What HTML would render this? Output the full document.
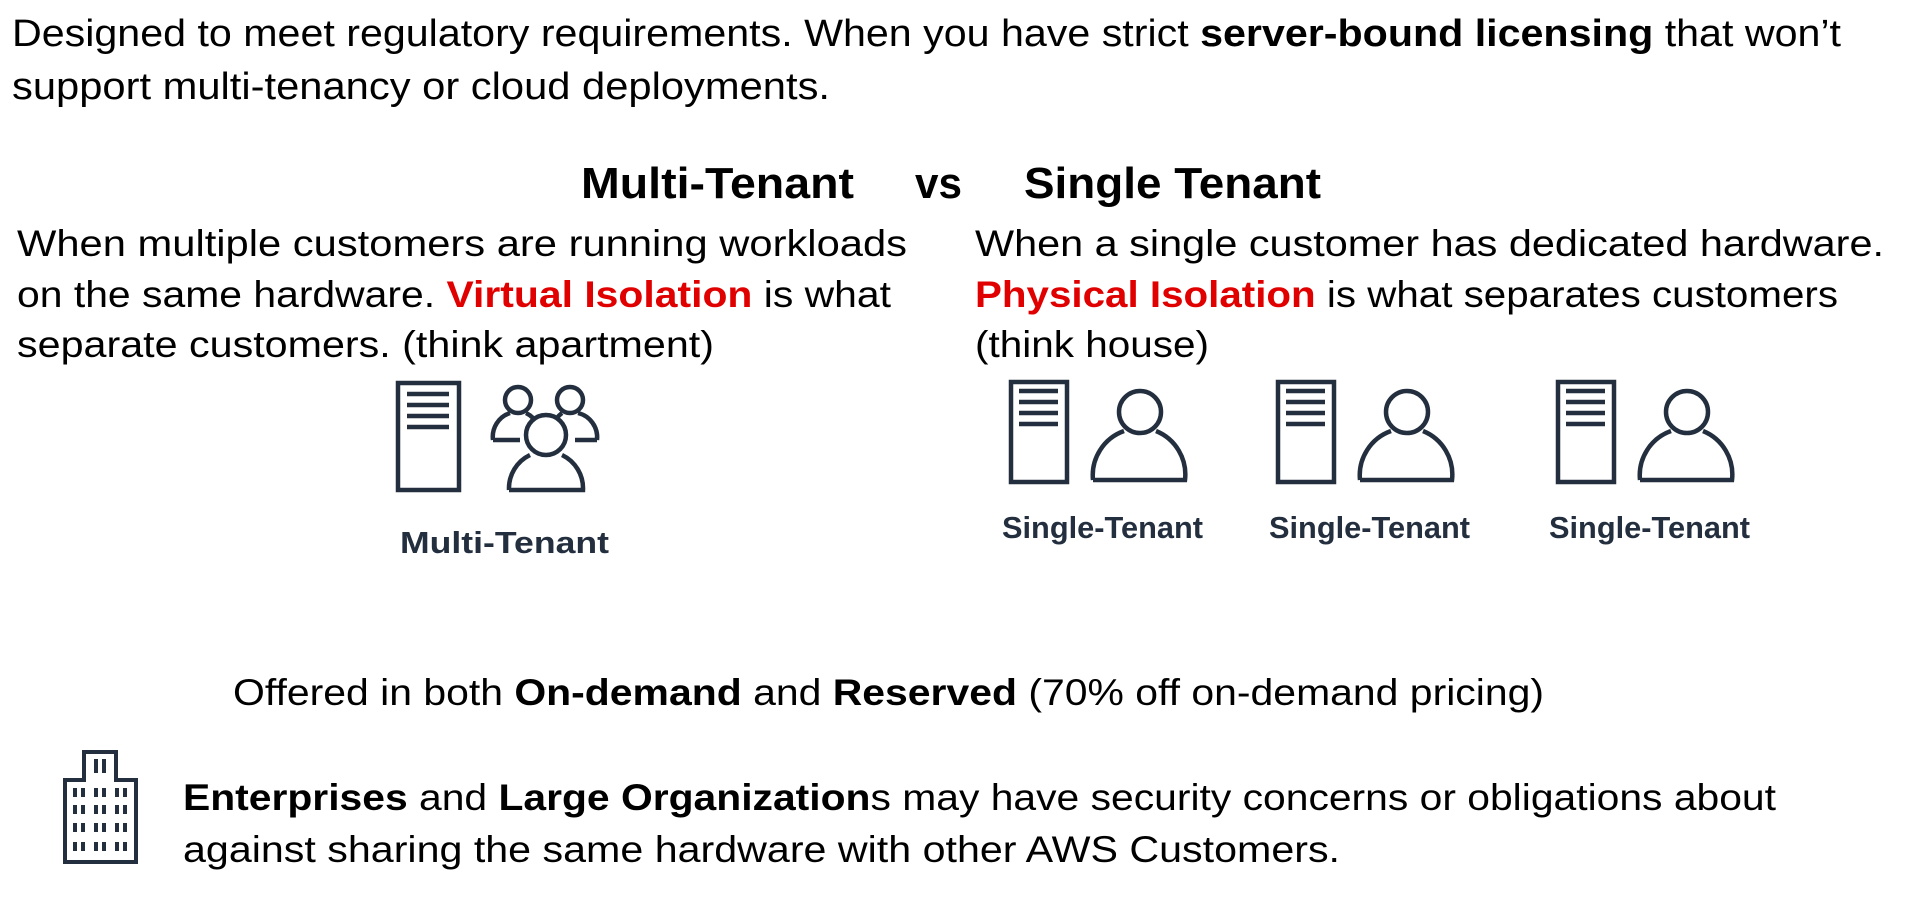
<!DOCTYPE html>
<html><head><meta charset="utf-8"><style>
html,body{margin:0;padding:0;background:#fff;width:1930px;height:900px;overflow:hidden}
text{font-family:"Liberation Sans",sans-serif;fill:#000}
.b{font-weight:bold}
.r{fill:#e00000;font-weight:bold}
.lab{font-weight:bold;fill:#232f3e}
</style></head><body>
<svg width="1930" height="900" viewBox="0 0 1930 900" xmlns="http://www.w3.org/2000/svg">
<g font-size="38">
<text x="12" y="46" textLength="1829" lengthAdjust="spacingAndGlyphs">Designed to meet regulatory requirements. When you have strict <tspan class="b">server-bound licensing</tspan> that won’t</text>
<text x="12" y="99" textLength="818" lengthAdjust="spacingAndGlyphs">support multi-tenancy or cloud deployments.</text>
</g>
<g font-size="44" class="b">
<text class="b" x="581" y="198" textLength="273" lengthAdjust="spacingAndGlyphs">Multi-Tenant</text>
<text class="b" x="915" y="198" textLength="47" lengthAdjust="spacingAndGlyphs">vs</text>
<text class="b" x="1024" y="198" textLength="297" lengthAdjust="spacingAndGlyphs">Single Tenant</text>
</g>
<g font-size="37">
<text x="17" y="256" textLength="890" lengthAdjust="spacingAndGlyphs">When multiple customers are running workloads</text>
<text x="17" y="307" textLength="874" lengthAdjust="spacingAndGlyphs">on the same hardware. <tspan class="r">Virtual Isolation</tspan> is what</text>
<text x="17" y="357" textLength="697" lengthAdjust="spacingAndGlyphs">separate customers. (think apartment)</text>
<text x="975" y="256" textLength="909" lengthAdjust="spacingAndGlyphs">When a single customer has dedicated hardware.</text>
<text x="975" y="307" textLength="863" lengthAdjust="spacingAndGlyphs"><tspan class="r">Physical Isolation</tspan> is what separates customers</text>
<text x="975" y="357" textLength="234" lengthAdjust="spacingAndGlyphs">(think house)</text>
</g>
<g stroke="#232f3e" stroke-width="4.5" fill="none" stroke-linecap="butt">
<rect x="398" y="383" width="61" height="107"/>
<path d="M407 394H449M407 405H449M407 416H449M407 427H449"/>
<circle cx="518" cy="400" r="13"/>
<circle cx="570" cy="400" r="13"/>
<path d="M493 440 A25 25 0 0 1 510 413 M493 440 H520 M526 413 A25 25 0 0 1 533 418"/>
<path d="M597 440 A25 25 0 0 0 578 413 M597 440 H575 M562 413 A25 25 0 0 0 557 418"/>
<circle cx="546" cy="435" r="20"/>
<path d="M509 490 A37 37 0 0 1 530 455 M562 455 A37 37 0 0 1 583 490 H509"/>
</g>
<g id="st" stroke="#232f3e" stroke-width="4.5" fill="none">
<rect x="1011" y="382" width="56" height="100"/>
<path d="M1019 391H1058M1019 402H1058M1019 413H1058M1019 424H1058"/>
<circle cx="1140" cy="412" r="21"/>
<path d="M1093 480 A47 47 0 0 1 1124 431 M1156 431 A47 47 0 0 1 1185 480 H1093"/>
</g>
<use href="#st" x="267"/>
<use href="#st" x="547"/>
<g font-size="31">
<text class="lab" x="400" y="553" textLength="209" lengthAdjust="spacingAndGlyphs">Multi-Tenant</text>
<text class="lab" x="1002" y="538" textLength="201" lengthAdjust="spacingAndGlyphs">Single-Tenant</text>
<text class="lab" x="1269" y="538" textLength="201" lengthAdjust="spacingAndGlyphs">Single-Tenant</text>
<text class="lab" x="1549" y="538" textLength="201" lengthAdjust="spacingAndGlyphs">Single-Tenant</text>
</g>
<g font-size="37">
<text x="233" y="705" textLength="1311" lengthAdjust="spacingAndGlyphs">Offered in both <tspan class="b">On-demand</tspan> and <tspan class="b">Reserved</tspan> (70% off on-demand pricing)</text>
<text x="183" y="810" textLength="1593" lengthAdjust="spacingAndGlyphs"><tspan class="b">Enterprises</tspan> and <tspan class="b">Large Organization</tspan>s may have security concerns or obligations about</text>
<text x="183" y="862" textLength="1157" lengthAdjust="spacingAndGlyphs">against sharing the same hardware with other AWS Customers.</text>
</g>
<g stroke="#232f3e" stroke-width="4" fill="none">
<path d="M65 862 V780 H84 V752 H116 V780 H136 V862 Z"/>
</g>
<g fill="#232f3e">
<rect x="94" y="759" width="4" height="14"/><rect x="102" y="759" width="4" height="14"/>
<g id="row">
<rect x="73" y="788" width="4" height="9"/><rect x="81" y="788" width="4" height="9"/>
<rect x="94" y="788" width="4" height="9"/><rect x="102" y="788" width="4" height="9"/>
<rect x="115" y="788" width="4" height="9"/><rect x="123" y="788" width="4" height="9"/>
</g>
<use href="#row" y="17"/><use href="#row" y="35"/><use href="#row" y="54"/>
</g>
</svg>
</body></html>
